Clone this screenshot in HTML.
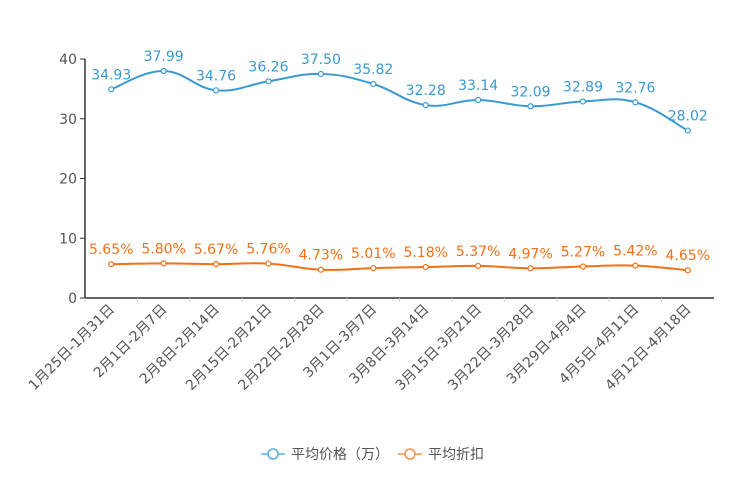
<!DOCTYPE html>
<html><head><meta charset="utf-8"><style>
body{margin:0;background:#fff;}
svg{display:block;font-family:"DejaVu Sans","Noto Sans CJK SC",sans-serif;}
</style></head><body>
<svg id="c" width="744" height="496"></svg>
<script>
const categories=["1月25日-1月31日","2月1日-2月7日","2月8日-2月14日","2月15日-2月21日","2月22日-2月28日","3月1日-3月7日","3月8日-3月14日","3月15日-3月21日","3月22日-3月28日","3月29日-4月4日","4月5日-4月11日","4月12日-4月18日"];
const priceValues=[34.93,37.99,34.76,36.26,37.50,35.82,32.28,33.14,32.09,32.89,32.76,28.02];
const discountValues=[5.65,5.80,5.67,5.76,4.73,5.01,5.18,5.37,4.97,5.27,5.42,4.65];
const yTicks=[0,10,20,30,40];
const NS="http://www.w3.org/2000/svg";
const svg=document.getElementById('c');
const L=85,R=714,T=59,B=298,YMAX=40;
const bw=(R-L)/categories.length;
const xs=i=>L+bw*(i+0.5);
const ys=v=>B-(v/YMAX)*(B-T);
function mk(tag,attrs,parent){const e=document.createElementNS(NS,tag);for(const k in attrs)e.setAttribute(k,attrs[k]);(parent||svg).appendChild(e);return e;}
let ya=mk('line',{x1:L,y1:T,x2:L,y2:B,stroke:'#333','stroke-width':1.5});


let xa=mk('line',{x1:L,y1:B,x2:R,y2:B,stroke:'#333','stroke-width':1.5});


yTicks.forEach(t=>{
 mk('line',{x1:L-5,y1:ys(t),x2:L,y2:ys(t),stroke:'#333'});
 const tx=mk('text',{x:L-8,y:ys(t)+5,'text-anchor':'end','font-size':14,fill:'#555'});
 tx.textContent=t;
 
 
});
categories.forEach((c,i)=>{
 mk('line',{x1:L+bw*i,y1:B,x2:L+bw*i,y2:B+4,stroke:'#ccc'});
 const x=xs(i);
 const tx=mk('text',{x:x+4,y:B+12,'text-anchor':'end','font-size':14,fill:'#555',transform:`rotate(-45 ${x+4} ${B+12})`});
 tx.textContent=c;
 
 
});
function smooth(pts){let d=`M${pts[0][0]},${pts[0][1]}`;for(let i=0;i<pts.length-1;i++){const p0=pts[i-1]||pts[i],p1=pts[i],p2=pts[i+1],p3=pts[i+2]||p2;const k=0.2;d+=` C${p1[0]+(p2[0]-p0[0])*k},${p1[1]+(p2[1]-p0[1])*k} ${p2[0]-(p3[0]-p1[0])*k},${p2[1]-(p3[1]-p1[1])*k} ${p2[0]},${p2[1]}`;}return d;}
function series(vals,color,name,suffix){
 const pts=vals.map((v,i)=>[xs(i),ys(v)]);
 const p=mk('path',{d:smooth(pts),fill:'none',stroke:color,'stroke-width':2});
 
 
 pts.forEach((q,i)=>{
  const c=mk('circle',{cx:q[0],cy:q[1],r:2.5,fill:'#fff',stroke:color,'stroke-width':1.2});
  
  
  const t=mk('text',{x:q[0],y:q[1]-10,'text-anchor':'middle','font-size':14,fill:color});
  t.textContent=vals[i].toFixed(2)+suffix;
  
  
 });
}
series(priceValues,'#3a9ad0','price','');
series(discountValues,'#f47016','discount','%');
function legend(x,color,label,name){
 const g=mk('g',{});
 
 
 mk('line',{x1:x,y1:454,x2:x+24,y2:454,stroke:color,'stroke-width':1.5},g);
 mk('circle',{cx:x+12,cy:454,r:5,fill:'#fff',stroke:color,'stroke-width':1.5},g);
 const t=mk('text',{x:x+30,y:459,'font-size':14,fill:'#555'},g);t.textContent=label;
}
legend(261,'#5ab0e0','平均价格（万）','legend-price');
legend(398,'#f7924a','平均折扣','legend-discount');
</script>
</body></html>
